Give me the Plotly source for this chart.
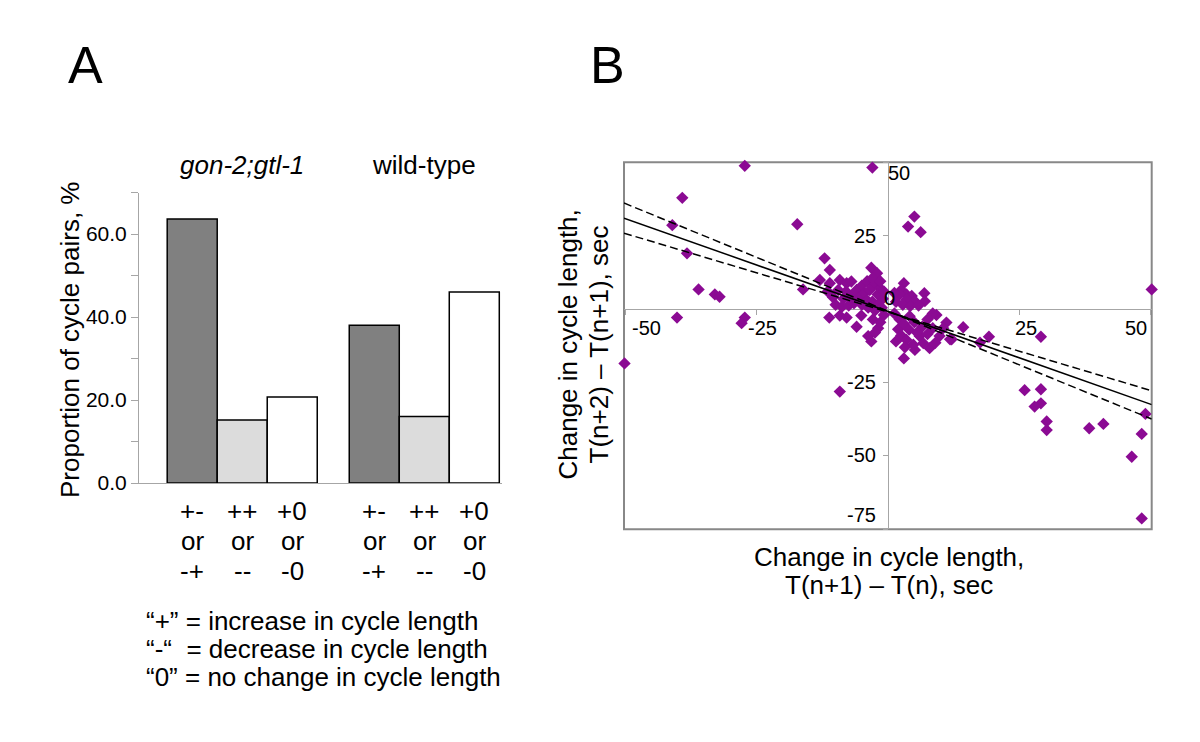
import numpy as np
import plotly.graph_objects as go

# The page body has an 8px margin, so the figure is sized to fit inside the window
OX, OY = 8, 8
W, H = 1184, 726
FONT = "Liberation Sans, Arial, Helvetica, sans-serif"

# ---------------- Panel A data ----------------
groups = ["gon-2;gtl-1", "wild-type"]
group_titles = ["<i>gon-2;gtl-1</i>", "wild-type"]
pattern_lines = [["+-", "or", "-+"], ["++", "or", "--"], ["+0", "or", "-0"]]
alt_pct = [63.6, 38.0]      # "+-" or "-+"
same_pct = [15.2, 16.0]     # "++" or "--"
zero_pct = [20.7, 46.0]     # "+0" or "-0"
yA_tickvals = [0, 10, 20, 30, 40, 50, 60, 70]
yA_ticktext = ["0.0", "", "20.0", "", "40.0", "", "60.0", ""]
key_lines = ["\u201c+\u201d = increase in cycle length",
             "\u201c-\u201c\u00a0 = decrease in cycle length",
             "\u201c0\u201d = no change in cycle length"]

# ---------------- Panel B data ----------------
dx = [-50.2, -27.3, -39.2, -41.1, -17.3, -38.3, -36.1, -33.0, -32.1, -16.2, -40.2, -27.3, -27.9,
      -3.0, 5.0, 3.8, 6.2, -12.1, -11.1, -3.2, -2.1, -9.2, 3.0, 50.2, 19.2, 29.1, 26.0, 29.1,
      29.1, 27.9, 30.2, 30.2, 38.3, 41.0, 49.0, 48.3, 46.4, 48.3, 14.3, 17.5,
      -13.0, -11.1, -9.2, -7.9, -7.0, -11.5, -10.5, -9.5, -8.5, -8.0, -7.0, -6.5, -6.0, -10.0,
      -8.8, -7.5, -5.5, -5.0, -4.0, -3.0, -2.5, -1.5, -4.5, -3.5, -2.0, -1.0, -4.0, -3.0, -2.0,
      -1.2, -5.0, -3.8, -2.5, -1.5, -0.8, -11.2, -9.2, -7.9, -6.0, -5.1, -3.8, -3.2, -2.9, -1.9,
      -1.5, -2.5, -0.8,
      3.0, 2.5, 3.5, 4.5, 2.2, 3.5, 5.1, 6.9, 7.0, 1.5, 2.8, 4.2, 5.8, 1.2, 1.9, 2.2, 4.1, 6.0,
      9.2, 11.1, 12.1, 9.8, 7.9, 5.1, 4.8, 6.7, 11.8, 1.2, 3.0, 4.0, 5.0, 6.5, 7.5, 8.5, 2.5,
      3.5, 1.5, 5.5, 7.5, 9.0, 10.5, 3.2, 8.5]
dy = [-18.5, 48.8, 37.9, 28.6, 28.9, 19.0, 6.7, 5.0, 4.2, 6.7, -2.9, -2.9, -4.8,
      48.2, 31.5, 28.1, 26.2, 17.3, 13.3, 14.1, 12.2, -28.1, -16.8, 6.7, -9.4, -9.4, -27.6, -27.3,
      -32.1, -33.2, -38.3, -41.2, -40.6, -39.1, -35.7, -42.5, -50.3, -71.3, -6.2, -11.4,
      9.9, 8.8, 9.9, 8.8, 9.4, 6.0, 4.0, 6.5, 3.5, 6.0, 4.5, 2.0, 6.5, 1.5,
      0.8, 1.2, 4.0, 8.0, 9.5, 10.5, 8.5, 7.0, 5.5, 6.5, 5.0, 3.5, 3.0, 2.5, 1.5,
      0.5, 1.5, 0.5, -0.5, 9.5, 6.0, -2.9, -2.2, -2.9, -6.0, -2.2, -9.2, -11.0, -3.5, -6.5,
      -4.5, -8.0, -2.0,
      8.8, 6.5, 5.0, 4.5, 5.0, 3.3, 2.7, 5.4, 2.7, 2.5, 1.5, 1.0, 1.2, 5.5, -6.9, -3.5, -2.4, -9.2,
      -2.0, -4.6, -10.3, -9.2, -13.3, -13.9, -12.1, -11.6, -10.3, -1.5, -5.0, -7.0, -4.5, -6.0, -3.5, -6.5, -9.0,
      -10.5, -11.0, -8.0, -8.5, -11.5, -6.5, -13.0, -1.5]
fit_slope = [-0.632, -0.732, -0.534]
fit_intercept = [-0.8, -0.7, -1.0]
fit_dash = ["solid", "8px,4px", "8px,4px"]
xB_ticks = [-50, -25, 25, 50]
yB_ticks = [50, 25, -25, -50, -75]
xB_range = [-50.3, 50.2]
yB_range = [-75, 50]

# ---------------- geometry helpers (window pixels -> paper) ----------------
def fx(px):
    return (px - OX) / W

def fy(py):
    return 1 - (py - OY) / H

fig = go.Figure()

# Panel A bars
bar_colors = ["#808080", "#dcdcdc", "#ffffff"]
series = [alt_pct, same_pct, zero_pct]
for vals, col, lines in zip(series, bar_colors, pattern_lines):
    fig.add_trace(go.Bar(
        x=groups, y=vals, name=" ".join(lines),
        marker=dict(color=col, line=dict(color="black", width=1.5)),
        xaxis="x", yaxis="y", showlegend=False, hoverinfo="x+y"))

# Panel B scatter
fig.add_trace(go.Scatter(
    x=dx, y=dy, mode="markers", xaxis="x2", yaxis="y2", showlegend=False,
    marker=dict(symbol="diamond", size=9.5, color="#8B0A93", line=dict(width=0)),
    cliponaxis=False))

# Regression line and bounds
xf = np.array(xB_range)
for s, b, d in zip(fit_slope, fit_intercept, fit_dash):
    fig.add_trace(go.Scatter(
        x=xf, y=s * xf + b, mode="lines", xaxis="x2", yaxis="y2", showlegend=False,
        line=dict(color="black", width=1.5, dash=d)))

bargap = 1 - 150 / 182
xA_dom = [fx(139), fx(502)]
yA_dom = [fy(483), fy(192.5)]
xB_dom = [fx(624), fx(1151.7)]
yB_dom = [fy(529.3), fy(162.3)]
x0_pos = yB_dom[0] + (0 - yB_range[0]) / (yB_range[1] - yB_range[0]) * (yB_dom[1] - yB_dom[0])
y0_pos = xB_dom[0] + (0 - xB_range[0]) / (xB_range[1] - xB_range[0]) * (xB_dom[1] - xB_dom[0])

axis_grey = "#a6a6a6"
fig.update_layout(
    width=W, height=H, autosize=False,
    margin=dict(l=0, r=0, t=0, b=0, pad=0, autoexpand=False),
    paper_bgcolor="white", plot_bgcolor="white",
    font=dict(family=FONT, color="black", size=26),
    barmode="group", bargap=bargap, bargroupgap=0,
    xaxis=dict(domain=xA_dom, anchor="y", type="category", range=[-0.567, 1.427],
               showline=True, linecolor=axis_grey, linewidth=1, ticks="",
               showticklabels=False, showgrid=False, zeroline=False),
    yaxis=dict(domain=yA_dom, anchor="x", range=[0, 70], showline=True,
               linecolor=axis_grey, linewidth=1, ticks="outside", ticklen=7,
               tickcolor=axis_grey, tickwidth=1, tickvals=yA_tickvals, ticktext=yA_ticktext,
               tickfont=dict(size=21, family=FONT, color="black"),
               showgrid=False, zeroline=False),
    xaxis2=dict(domain=xB_dom, anchor="free", position=x0_pos, range=xB_range,
                showline=True, linecolor=axis_grey, linewidth=1, ticks="outside", ticklen=5,
                tickcolor=axis_grey, tickvals=xB_ticks, showticklabels=False,
                showgrid=False, zeroline=False, layer="below traces"),
    yaxis2=dict(domain=yB_dom, anchor="free", position=y0_pos, range=yB_range,
                showline=True, linecolor=axis_grey, linewidth=1, ticks="outside", ticklen=5,
                tickcolor=axis_grey, tickvals=yB_ticks, showticklabels=False,
                showgrid=False, zeroline=False, layer="below traces"),
)

# frame of panel B
fig.add_shape(type="rect", xref="x2 domain", yref="y2 domain", x0=0, x1=1, y0=0, y1=1,
              line=dict(color="#888888", width=2), layer="below")

ann = []
def A(**kw):
    base = dict(showarrow=False, xanchor="center", yanchor="middle",
                font=dict(family=FONT, size=26, color="black"))
    base.update(kw)
    ann.append(base)

# Panel letters
A(text="A", x=fx(86), y=fy(65), xref="paper", yref="paper", font=dict(family=FONT, size=52, color="black"))
A(text="B", x=fx(607), y=fy(65), xref="paper", yref="paper", font=dict(family=FONT, size=52, color="black"))

# Panel A texts
bw = (1 - bargap) / 3
for gi, title in enumerate(group_titles):
    A(text=title, x=gi, y=fy(165), xref="x", yref="paper")
    for k, lines in enumerate(pattern_lines):
        for r, (txt, py) in enumerate(zip(lines, [511, 541, 571])):
            A(text=txt, x=gi + (k - 1) * bw, y=fy(py), xref="x", yref="paper")
A(text="Proportion of cycle pairs, %", x=fx(70), y=fy(340), xref="paper", yref="paper", textangle=-90)
for txt, py in zip(key_lines, [621, 649, 677]):
    A(text=txt, x=fx(144), y=fy(py), xref="paper", yref="paper", xanchor="left")

# Panel B tick labels
tf = dict(family=FONT, size=20, color="black")
xlab_shift = {-50: ("left", 4), -25: ("center", 6), 25: ("center", 7), 50: ("right", -2)}
for v in xB_ticks:
    anc, sh = xlab_shift[v]
    A(text=str(v), x=max(min(v, xB_range[1]), xB_range[0]), y=0, xref="x2", yref="y2",
      xanchor=anc, xshift=sh, yshift=-19, font=tf)
ylab_shift = {25: 0, -25: 1, -50: 1, -75: 14}
for v in [25, -25, -50, -75]:
    A(text=str(v), x=0, y=v, xref="x2", yref="y2", xanchor="right", xshift=-10,
      yshift=ylab_shift[v], font=tf)
A(text="50", x=0, y=50, xref="x2", yref="y2", xanchor="left", xshift=-2, yshift=-11, font=tf)
A(text="0", x=0, y=0, xref="x2", yref="y2", xanchor="center", xshift=1, yshift=11, font=tf)

# Panel B axis titles
A(text="Change in cycle length,", x=fx(888.5), y=fy(557), xref="paper", yref="paper")
A(text="T(n+1) \u2013 T(n), sec", x=fx(888.5), y=fy(585), xref="paper", yref="paper")
A(text="Change in cycle length,", x=fx(567), y=fy(344.5), xref="paper", yref="paper", textangle=-90)
A(text="T(n+2) \u2013 T(n+1), sec", x=fx(598), y=fy(344.5), xref="paper", yref="paper", textangle=-90)

fig.update_layout(annotations=ann)
fig.write_html("out.html")
